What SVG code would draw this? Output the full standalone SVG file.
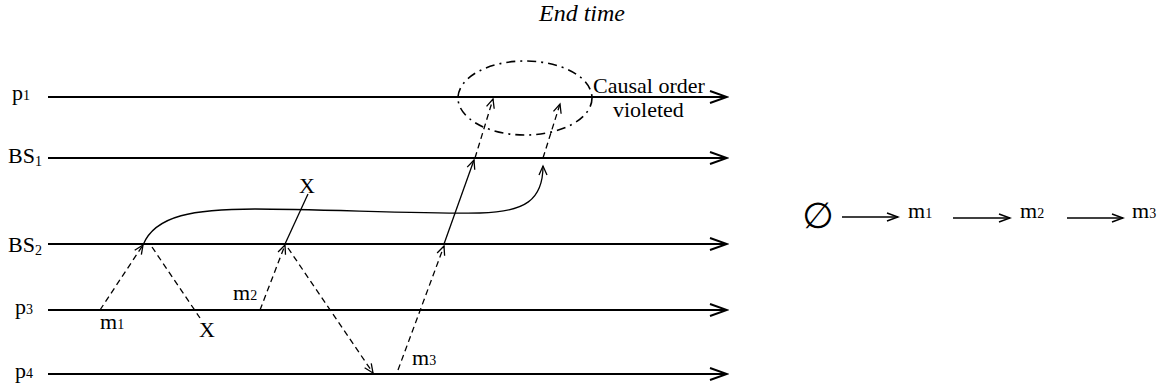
<svg xmlns="http://www.w3.org/2000/svg" width="1164" height="391" viewBox="0 0 1164 391">
<defs>
<style>
.t{font-family:"Liberation Serif","Times New Roman",serif;font-size:22px;fill:#000}
.sub{font-size:14px}
.it{font-style:italic;font-size:24px}
.proc{stroke:#000;stroke-width:2;fill:none}
.msg{stroke:#000;stroke-width:1.3;fill:none}
.dash{stroke-dasharray:6 4}
.dd{stroke:#000;stroke-width:1.6;fill:none;stroke-dasharray:9 5 2 5}
</style>
<marker id="big" markerUnits="userSpaceOnUse" markerWidth="20" markerHeight="16" viewBox="0 0 20 16" refX="18" refY="8" orient="auto">
<path d="M1,2 L18,8 L1,14" fill="none" stroke="#000" stroke-width="2"/>
</marker>
<marker id="sm" markerUnits="userSpaceOnUse" markerWidth="12" markerHeight="10" viewBox="0 0 12 10" refX="10" refY="5" orient="auto">
<path d="M1,1 L10,5 L1,9" fill="none" stroke="#000" stroke-width="1.3"/>
</marker>
<marker id="seq" markerUnits="userSpaceOnUse" markerWidth="14" markerHeight="12" viewBox="0 0 14 12" refX="12" refY="6" orient="auto">
<path d="M1,2 L12,6 L1,10" fill="none" stroke="#000" stroke-width="1.6"/>
</marker>
</defs>
<rect width="1164" height="391" fill="#fff"/>

<text class="t it" x="582" y="21" text-anchor="middle">End time</text>

<g id="p1">
<line class="proc" x1="48" y1="97" x2="727" y2="97" marker-end="url(#big)"/>
<text class="t" x="12" y="100">p<tspan class="sub">1</tspan></text>
</g>
<g id="BS1">
<line class="proc" x1="48" y1="158" x2="727" y2="158" marker-end="url(#big)"/>
<text class="t" x="8" y="163">BS<tspan class="sub" dy="3">1</tspan></text>
</g>
<g id="BS2">
<line class="proc" x1="48" y1="244" x2="727" y2="244" marker-end="url(#big)"/>
<text class="t" x="8" y="252">BS<tspan class="sub" dy="3">2</tspan></text>
</g>
<g id="p3">
<line class="proc" x1="48" y1="310" x2="727" y2="310" marker-end="url(#big)"/>
<text class="t" x="15" y="314">p<tspan class="sub">3</tspan></text>
</g>
<g id="p4">
<line class="proc" x1="48" y1="374" x2="727" y2="374" marker-end="url(#big)"/>
<text class="t" x="15" y="378">p<tspan class="sub">4</tspan></text>
</g>

<g id="violation">
<ellipse class="dd" cx="525" cy="98" rx="67" ry="37"/>
<text class="t" x="593" y="93">Causal order</text>
<text class="t" x="613" y="117">violeted</text>
</g>

<g id="labels">
<text class="t" x="100" y="329">m<tspan class="sub">1</tspan></text>
<text class="t" x="233" y="300">m<tspan class="sub">2</tspan></text>
<text class="t" x="412" y="365">m<tspan class="sub">3</tspan></text>
<text class="t" x="207" y="337" text-anchor="middle">X</text>
<text class="t" x="307" y="193" text-anchor="middle">X</text>
</g>

<g id="connectors">
<line class="msg dash" x1="100" y1="310" x2="143" y2="245" marker-end="url(#sm)"/>
<line class="msg dash" x1="152" y1="247" x2="200" y2="318"/>
<line class="msg dash" x1="260" y1="310" x2="285" y2="245" marker-end="url(#sm)"/>
<line class="msg dash" x1="288" y1="248" x2="373" y2="373" marker-end="url(#sm)"/>
<line class="msg dash" x1="398" y1="370" x2="444" y2="246" marker-end="url(#sm)"/>
<line class="msg dash" x1="475" y1="158" x2="493" y2="99" marker-end="url(#sm)"/>
<line class="msg dash" x1="543" y1="158" x2="560" y2="104" marker-end="url(#sm)"/>
<line class="msg" x1="285" y1="244" x2="308" y2="194"/>
<line class="msg" x1="444" y1="244" x2="474" y2="160" marker-end="url(#sm)"/>
<path class="msg" d="M143,245 C155,215 195,209 255,209 S430,214 480,213 C525,212 543,200 543,166" marker-end="url(#sm)"/>
</g>

<g id="sequence">
<text x="818" y="228" text-anchor="middle" style="font-family:'DejaVu Sans',sans-serif;font-size:36px">∅</text>
<line class="msg" x1="842" y1="217" x2="898" y2="217" marker-end="url(#seq)"/>
<text class="t" x="908" y="218">m<tspan class="sub">1</tspan></text>
<line class="msg" x1="953" y1="218" x2="1010" y2="218" marker-end="url(#seq)"/>
<text class="t" x="1020" y="218">m<tspan class="sub">2</tspan></text>
<line class="msg" x1="1067" y1="218" x2="1123" y2="218" marker-end="url(#seq)"/>
<text class="t" x="1132" y="218">m<tspan class="sub">3</tspan></text>
</g>
</svg>
